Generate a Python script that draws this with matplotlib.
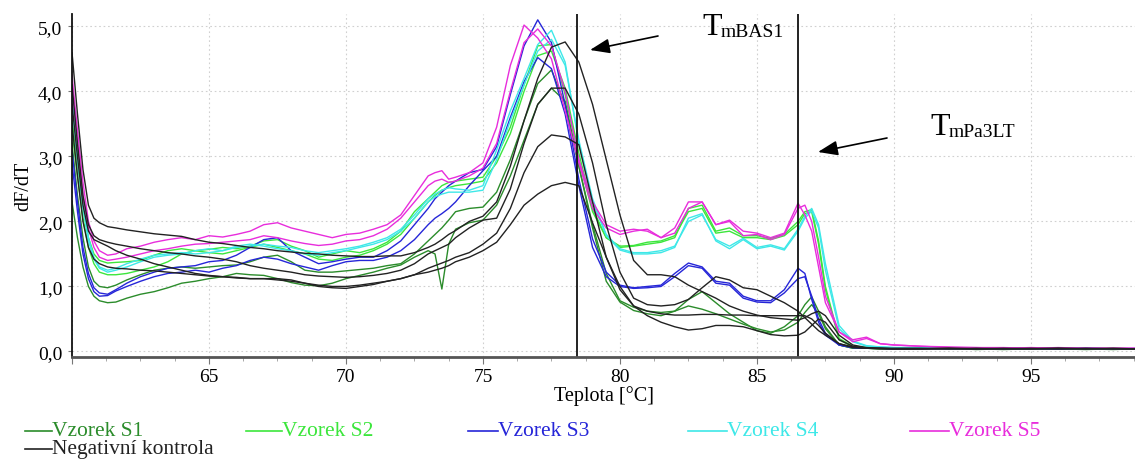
"""Melt curve (dF/dT vs temperature) for samples S1-S5 and the negative control."""
import matplotlib.pyplot as plt
from matplotlib.lines import Line2D
from matplotlib.ticker import FuncFormatter, MultipleLocator

W, H = 1135, 460

# shared temperature grid [°C]
temp = [60.0, 60.2, 60.4, 60.6, 60.8, 61.0, 61.3, 61.6,
        62.0, 62.5, 63.0, 63.5, 64.0, 64.5, 65.0, 65.5, 66.0, 66.5, 67.0, 67.5,
        68.0, 68.5, 69.0, 69.5, 70.0, 70.5, 71.0, 71.5, 72.0, 72.5, 73.0,
        73.25, 73.5, 73.75, 74.0, 74.5, 75.0, 75.5, 76.0, 76.5, 77.0, 77.5, 78.0,
        78.5, 79.0, 79.5, 80.0,
        80.5, 81.0, 81.5, 82.0, 82.5, 83.0, 83.5, 84.0, 84.5, 85.0, 85.5, 86.0,
        86.5, 86.75, 87.0, 87.25, 87.5, 88.0, 88.5, 89.0, 89.5, 90.0,
        91.0, 92.0, 93.0, 94.0, 95.0, 96.0, 97.0, 98.0, 98.8]

s1_a = [3.20, 2.40, 1.75, 1.30, 1.08, 1.00, 0.98, 1.02,
        1.10, 1.18, 1.25, 1.28, 1.30, 1.28, 1.30, 1.32, 1.33, 1.38, 1.45, 1.48,
        1.38, 1.25, 1.22, 1.22, 1.24, 1.26, 1.28, 1.32, 1.35, 1.50, 1.70,
        1.80, 1.90, 2.02, 2.15, 2.20, 2.22, 2.45, 2.95, 3.55, 4.12, 4.33, 3.80,
        2.85, 1.95, 1.20, 0.78,
        0.68, 0.62, 0.60, 0.62, 0.80, 0.92, 0.75, 0.58, 0.45, 0.32, 0.28, 0.38,
        0.55, 0.72, 0.84, 0.62, 0.38, 0.10, 0.05, 0.05, 0.04, 0.04,
        0.04, 0.05, 0.03, 0.04, 0.05, 0.04, 0.03, 0.04, 0.04]
s1_b = [2.30, 1.75, 1.30, 1.00, 0.85, 0.78, 0.75, 0.76,
        0.82, 0.88, 0.92, 0.98, 1.05, 1.08, 1.12, 1.15, 1.20, 1.18, 1.17, 1.12,
        1.06, 1.02, 1.01, 1.05, 1.12, 1.17, 1.22, 1.28, 1.33, 1.45, 1.55,
        1.50, 0.96, 1.65, 1.88, 1.98, 2.02, 2.25, 2.70, 3.25, 3.80, 4.05, 3.85,
        2.85, 1.90, 1.08, 0.76,
        0.63, 0.58, 0.55, 0.62, 0.70, 0.65, 0.58, 0.50, 0.42, 0.35, 0.30, 0.33,
        0.45, 0.60, 0.72, 0.58, 0.35, 0.10, 0.05, 0.05, 0.04, 0.04,
        0.05, 0.04, 0.04, 0.03, 0.04, 0.05, 0.04, 0.03, 0.04]
s2_a = [3.60, 2.90, 2.20, 1.75, 1.50, 1.40, 1.36, 1.37,
        1.38, 1.40, 1.48, 1.55, 1.58, 1.55, 1.57, 1.60, 1.58, 1.62, 1.70, 1.72,
        1.62, 1.55, 1.45, 1.50, 1.55, 1.52, 1.58, 1.68, 1.85, 2.15, 2.35,
        2.45, 2.55, 2.60, 2.62, 2.65, 2.68, 3.00, 3.45, 4.10, 4.70, 4.72, 3.95,
        2.95, 2.15, 1.75, 1.60,
        1.62, 1.65, 1.68, 1.75, 2.20, 2.25, 1.85, 1.90, 1.78, 1.78, 1.74, 1.80,
        2.00, 2.15, 2.18, 1.70, 1.00, 0.20, 0.08, 0.06, 0.05, 0.05,
        0.05, 0.05, 0.04, 0.05, 0.04, 0.05, 0.04, 0.04, 0.04]
s2_b = [3.40, 2.70, 2.05, 1.60, 1.35, 1.22, 1.18, 1.18,
        1.20, 1.25, 1.30, 1.38, 1.50, 1.55, 1.52, 1.50, 1.55, 1.60, 1.65, 1.60,
        1.55, 1.50, 1.42, 1.40, 1.45, 1.48, 1.55, 1.65, 1.80, 2.05, 2.30,
        2.40, 2.48, 2.52, 2.55, 2.58, 2.62, 2.90, 3.35, 4.00, 4.55, 4.62, 4.05,
        3.05, 2.20, 1.75, 1.62,
        1.63, 1.68, 1.70, 1.78, 2.15, 2.20, 1.82, 1.85, 1.75, 1.75, 1.72, 1.78,
        1.95, 2.12, 2.15, 1.65, 0.95, 0.18, 0.07, 0.06, 0.05, 0.05,
        0.05, 0.04, 0.05, 0.04, 0.05, 0.04, 0.04, 0.05, 0.04]
s3_a = [3.10, 2.30, 1.60, 1.20, 0.98, 0.90, 0.88, 0.95,
        1.05, 1.15, 1.22, 1.28, 1.30, 1.32, 1.38, 1.40, 1.48, 1.60, 1.72, 1.75,
        1.55, 1.45, 1.35, 1.38, 1.42, 1.45, 1.45, 1.55, 1.70, 1.95, 2.20,
        2.35, 2.45, 2.55, 2.62, 2.75, 2.80, 3.15, 3.95, 4.70, 5.10, 4.75, 3.80,
        2.65, 1.73, 1.22, 1.02,
        0.98, 1.00, 1.02, 1.20, 1.36, 1.30, 1.08, 1.05, 0.85, 0.78, 0.78, 0.95,
        1.28, 1.20, 0.80, 0.45, 0.25, 0.10, 0.06, 0.05, 0.05, 0.04,
        0.05, 0.04, 0.05, 0.04, 0.05, 0.04, 0.05, 0.04, 0.04]
s3_b = [2.90, 2.15, 1.50, 1.12, 0.92, 0.85, 0.86, 0.93,
        1.00, 1.08, 1.15, 1.20, 1.22, 1.25, 1.22, 1.28, 1.32, 1.40, 1.45, 1.42,
        1.35, 1.30, 1.25, 1.32, 1.38, 1.40, 1.40, 1.45, 1.55, 1.72, 1.95,
        2.05, 2.12, 2.20, 2.30, 2.55, 2.78, 3.00, 3.60, 4.15, 4.52, 4.35, 3.65,
        2.55, 1.60, 1.15, 1.00,
        0.97, 0.98, 1.00, 1.15, 1.32, 1.28, 1.05, 1.02, 0.82, 0.76, 0.75, 0.90,
        1.12, 1.15, 0.85, 0.50, 0.28, 0.10, 0.06, 0.05, 0.05, 0.04,
        0.04, 0.05, 0.04, 0.05, 0.04, 0.04, 0.05, 0.04, 0.04]
s4_a = [3.95, 3.10, 2.30, 1.75, 1.45, 1.30, 1.25, 1.28,
        1.35, 1.42, 1.48, 1.50, 1.52, 1.50, 1.52, 1.55, 1.60, 1.62, 1.65, 1.62,
        1.60, 1.55, 1.52, 1.55, 1.58, 1.62, 1.68, 1.75, 1.88, 2.10, 2.35,
        2.42, 2.48, 2.52, 2.50, 2.48, 2.55, 3.10, 3.70, 4.20, 4.72, 4.94, 4.45,
        3.20, 2.30, 1.78, 1.56,
        1.50, 1.50, 1.52, 1.60, 2.05, 2.12, 1.70, 1.58, 1.72, 1.58, 1.62, 1.56,
        1.85, 2.05, 2.16, 1.90, 1.25, 0.35, 0.15, 0.08, 0.07, 0.06,
        0.06, 0.05, 0.05, 0.05, 0.04, 0.05, 0.05, 0.04, 0.04]
s4_b = [3.80, 2.95, 2.20, 1.70, 1.42, 1.28, 1.22, 1.25,
        1.30, 1.38, 1.45, 1.48, 1.50, 1.55, 1.58, 1.55, 1.62, 1.65, 1.62, 1.58,
        1.55, 1.50, 1.48, 1.52, 1.55, 1.60, 1.65, 1.72, 1.85, 2.05, 2.30,
        2.38, 2.42, 2.45, 2.45, 2.45, 2.48, 2.95, 3.55, 4.10, 4.62, 4.80, 4.40,
        3.25, 2.35, 1.80, 1.58,
        1.52, 1.52, 1.55, 1.62, 2.00, 2.10, 1.72, 1.62, 1.74, 1.60, 1.64, 1.58,
        1.88, 2.08, 2.20, 1.95, 1.35, 0.40, 0.16, 0.09, 0.07, 0.06,
        0.06, 0.05, 0.05, 0.04, 0.05, 0.05, 0.04, 0.04, 0.05]
s5_a = [4.25, 3.40, 2.60, 2.00, 1.70, 1.55, 1.48, 1.50,
        1.58, 1.62, 1.68, 1.72, 1.75, 1.72, 1.78, 1.76, 1.80, 1.85, 1.95, 1.98,
        1.90, 1.85, 1.80, 1.75, 1.80, 1.82, 1.88, 1.95, 2.10, 2.40, 2.70,
        2.75, 2.78, 2.65, 2.68, 2.75, 2.90, 3.45, 4.40, 5.02, 4.82, 4.50, 3.70,
        2.90, 2.20, 1.90, 1.80,
        1.85, 1.88, 1.75, 1.90, 2.30, 2.30, 1.95, 2.02, 1.85, 1.82, 1.75, 1.82,
        2.28, 2.10, 1.85, 1.30, 0.75, 0.30, 0.18, 0.22, 0.12, 0.10,
        0.08, 0.07, 0.06, 0.06, 0.05, 0.06, 0.05, 0.05, 0.05]
s5_b = [4.10, 3.20, 2.40, 1.90, 1.60, 1.45, 1.40, 1.42,
        1.45, 1.50, 1.55, 1.58, 1.62, 1.65, 1.66, 1.68, 1.70, 1.72, 1.78, 1.75,
        1.70, 1.66, 1.63, 1.65, 1.70, 1.72, 1.78, 1.88, 2.05, 2.30, 2.55,
        2.62, 2.65, 2.60, 2.62, 2.70, 2.82, 3.20, 4.00, 4.75, 4.96, 4.70, 4.00,
        2.95, 2.30, 1.95, 1.85,
        1.88, 1.85, 1.75, 1.82, 2.20, 2.30, 1.95, 2.00, 1.78, 1.80, 1.72, 1.80,
        2.20, 2.25, 2.00, 1.45, 0.85, 0.30, 0.15, 0.20, 0.12, 0.10,
        0.08, 0.06, 0.06, 0.05, 0.06, 0.05, 0.05, 0.05, 0.05]
neg_a = [4.60, 3.65, 2.80, 2.25, 2.05, 1.98, 1.92, 1.90,
         1.87, 1.84, 1.81, 1.79, 1.77, 1.72, 1.68, 1.66, 1.63, 1.60, 1.58, 1.55,
         1.53, 1.51, 1.50, 1.48, 1.47, 1.46, 1.46, 1.47, 1.47, 1.52, 1.60,
         1.65, 1.72, 1.80, 1.86, 2.00, 2.08, 2.30, 2.85, 3.55, 4.20, 4.68, 4.76,
         4.45, 3.80, 2.95, 2.10,
         1.40, 1.18, 1.18, 1.15, 1.02, 0.92, 0.82, 0.70, 0.62, 0.56, 0.52, 0.50,
         0.48, 0.52, 0.58, 0.62, 0.55, 0.25, 0.10, 0.06, 0.05, 0.05,
         0.05, 0.04, 0.04, 0.05, 0.04, 0.04, 0.05, 0.04, 0.04]
neg_b = [4.10, 3.20, 2.40, 1.95, 1.78, 1.72, 1.68, 1.65,
         1.62, 1.58, 1.55, 1.52, 1.50, 1.47, 1.45, 1.42, 1.38, 1.32, 1.28, 1.25,
         1.22, 1.18, 1.16, 1.15, 1.14, 1.15, 1.17, 1.20, 1.25, 1.35, 1.50,
         1.55, 1.60, 1.65, 1.75, 1.90, 2.02, 2.05, 2.50, 3.20, 3.80, 4.05, 4.05,
         3.65, 2.90, 1.95, 1.22,
         0.82, 0.72, 0.70, 0.72, 0.80, 0.98, 1.15, 1.10, 0.98, 0.95, 0.85, 0.75,
         0.62, 0.52, 0.42, 0.32, 0.25, 0.12, 0.07, 0.05, 0.05, 0.04,
         0.04, 0.05, 0.04, 0.04, 0.05, 0.04, 0.04, 0.05, 0.04]
neg_c = [3.50, 2.70, 2.00, 1.60, 1.42, 1.35, 1.30, 1.28,
         1.27, 1.25, 1.24, 1.22, 1.20, 1.18, 1.16, 1.15, 1.14, 1.12, 1.12, 1.10,
         1.08, 1.05, 1.02, 1.00, 1.00, 1.02, 1.05, 1.08, 1.12, 1.18, 1.28,
         1.32, 1.36, 1.40, 1.45, 1.52, 1.65, 1.82, 2.20, 2.75, 3.15, 3.33, 3.30,
         3.18, 2.30, 1.45, 0.95,
         0.70, 0.62, 0.58, 0.56, 0.56, 0.57, 0.57, 0.56, 0.56, 0.55, 0.55, 0.55,
         0.55, 0.55, 0.50, 0.40, 0.28, 0.12, 0.06, 0.05, 0.04, 0.04,
         0.04, 0.04, 0.05, 0.04, 0.04, 0.05, 0.04, 0.04, 0.04]
neg_d = [3.80, 3.00, 2.25, 1.85, 1.72, 1.68, 1.62, 1.55,
         1.48, 1.42, 1.35, 1.30, 1.25, 1.20, 1.17, 1.15, 1.13, 1.12, 1.12, 1.12,
         1.10, 1.05, 1.00, 0.98, 0.97, 1.00, 1.03, 1.08, 1.12, 1.18, 1.22,
         1.25, 1.28, 1.32, 1.38, 1.45, 1.55, 1.68, 1.95, 2.25, 2.42, 2.55, 2.60,
         2.55, 1.98, 1.45, 1.00,
         0.70, 0.55, 0.45, 0.38, 0.33, 0.35, 0.40, 0.40, 0.38, 0.32, 0.26, 0.24,
         0.25, 0.30, 0.40, 0.50, 0.45, 0.18, 0.08, 0.05, 0.05, 0.04,
         0.04, 0.05, 0.04, 0.04, 0.04, 0.05, 0.04, 0.04, 0.04]

labels = ["Vzorek S1", "Vzorek S2", "Vzorek S3", "Vzorek S4", "Vzorek S5",
          "Negativní kontrola"]
colors = ["#2b8c2b", "#3ce63c", "#2626d8", "#3ee8e8", "#e82ddc", "#222222"]
curves = [[s1_a, s1_b], [s2_a, s2_b], [s3_a, s3_b], [s4_a, s4_b], [s5_a, s5_b],
          [neg_a, neg_b, neg_c, neg_d]]

tm_lines = [78.45, 86.5]   # T_m markers


def px(x, y):
    """figure fraction from reference pixel coords (origin top-left)"""
    return x / W, 1 - y / H


def main():
    plt.rcParams["font.family"] = "Liberation Serif"
    fig = plt.figure(figsize=(W / 100, H / 100), dpi=100)
    ax = fig.add_axes([72 / W, 1 - 358 / H, (W - 72) / W, (358 - 15) / H])

    for col, group in zip(colors, curves):
        for ys in group:
            ax.plot(temp, ys, color=col, lw=1.0)

    for t in tm_lines:
        ax.axvline(t, color="#111111", lw=1.3)

    ax.set_xlim(60, 98.8)
    ax.set_ylim(-0.085, 5.19)
    ax.xaxis.set_major_locator(MultipleLocator(5))
    ax.xaxis.set_minor_locator(MultipleLocator(1.25))
    ax.yaxis.set_major_locator(MultipleLocator(1))
    ax.yaxis.set_major_formatter(FuncFormatter(lambda v, _: f"{v:.1f}".replace(".", ",")))
    ax.xaxis.set_major_formatter(FuncFormatter(lambda v, _: "" if v <= 60 else f"{v:.0f}"))
    ax.grid(True, linestyle=(0, (1.5, 2.5)), color="#d0d0d0", lw=0.8)
    ax.set_axisbelow(True)

    for s in ("top", "right"):
        ax.spines[s].set_visible(False)
    ax.spines["left"].set_color("#111111")
    ax.spines["left"].set_linewidth(1.3)
    ax.spines["bottom"].set_color("#555555")
    ax.spines["bottom"].set_linewidth(2.0)
    ax.tick_params(axis="x", which="major", length=5, color="#777777", labelsize=14, pad=3)
    ax.tick_params(axis="x", which="minor", length=3, color="#999999")
    ax.tick_params(axis="y", length=3, color="#777777", labelsize=14, pad=4)

    ax.set_xlabel("Teplota [°C]", fontsize=14.5, labelpad=0)
    ax.set_ylabel("dF/dT", fontsize=14.5, labelpad=3)

    # T_m labels with arrows
    for tx, ty, sub, arr in [(702, 35, "mBAS1", ((658, 37), (590, 51))),
                             (930, 135, "mPa3LT", ((887, 139), (818, 153)))]:
        fig.text(*px(tx, ty), "T", fontsize=23, va="baseline")
        fig.text(*px(tx + 19, ty + 2), sub, fontsize=14, va="baseline")
        (x0, y0), (x1, y1) = arr
        ax.annotate("", xy=(x1, H - y1), xycoords="figure pixels",
                    xytext=(x0, H - y0), textcoords="figure pixels",
                    arrowprops=dict(arrowstyle="-|>,head_length=1.2,head_width=0.45",
                                    color="black", lw=1.2, shrinkA=0, shrinkB=0))

    # legend: coloured lines + coloured text, laid out like the original
    slots = [(25, 52, 432), (246, 282, 432), (468, 498, 432), (688, 727, 432),
             (910, 949, 432), (25, 52, 450)]
    for (x0, x1, y), lab, col in zip(slots, labels, colors):
        fx0, fy = px(x0, y)
        fx1, _ = px(x1, y)
        fig.add_artist(Line2D([fx0, fx1], [fy, fy], color=col, lw=1.2,
                              transform=fig.transFigure))
        fig.text(fx1, fy, lab, color=col, fontsize=15.5, va="center")

    fig.savefig("out.png", dpi=100)


if __name__ == "__main__":
    main()
